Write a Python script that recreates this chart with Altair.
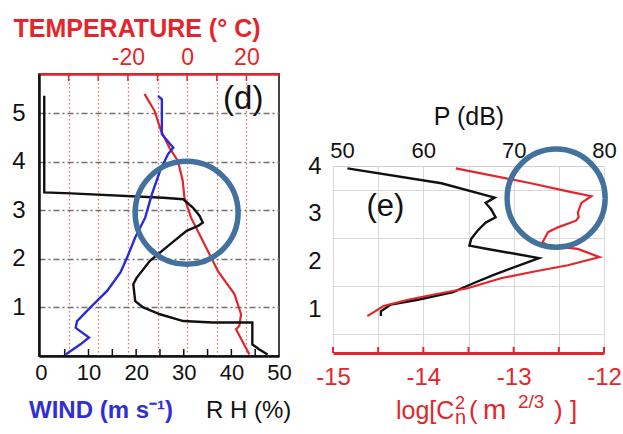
import altair as alt
import pandas as pd

# ---------------- panel (d): sounding profiles ----------------
wind_h = [5.36, 5.29, 4.57, 4.29, 4.16, 3.81, 3.33, 2.85, 2.44, 2.03, 1.72, 1.34, 1.00, 0.72, 0.58, 0.38, 0.24, 0.03]
wind_v = [24.6, 25.4, 25.4, 27.8, 26.7, 25.0, 23.3, 21.9, 19.8, 18.1, 16.7, 13.9, 10.4, 7.6, 7.3, 10.1, 8.3, 5.2]

rh_h = [5.36, 3.37, 3.35, 3.26, 3.23, 3.06, 2.89, 2.75, 2.68, 2.58, 2.30, 1.96, 1.61, 1.48, 1.13, 1.00, 0.86, 0.72, 0.69, 0.69, 0.24, 0.14, 0.03]
rh_v = [0.7, 0.7, 6.3, 25.7, 29.9, 31.9, 33.3, 34.0, 33.0, 30.6, 27.1, 22.9, 20.1, 19.4, 19.8, 21.5, 25.0, 29.9, 36.1, 44.4, 44.4, 45.8, 47.6]

temp_h = [5.40, 5.05, 4.64, 4.29, 4.02, 3.61, 3.26, 2.85, 2.44, 1.75, 1.27, 0.86, 0.62, 0.55, 0.03]
temp_v = [-14.4, -11.0, -8.8, -6.0, -3.1, -1.5, -0.9, 1.3, 4.7, 10.4, 16.0, 18.2, 17.6, 16.5, 21.0]

temp_ticks = [-40, -30, -20, -10, 0, 10, 20]
rh_ticks = [0, 10, 20, 30, 40, 50]
rh_minor = [5, 10, 15, 20, 25, 30, 35, 40, 45]
height_d_ticks = [1, 2, 3, 4, 5]

circle_d = {"v": [30.6], "h": [2.95]}
label_d = {"v": [42.5], "h": [5.3], "t": ["(d)"]}

# ---------------- panel (e): radar power & Cn2 ----------------
p_h = [3.95, 3.64, 3.34, 3.23, 3.10, 2.93, 2.82, 2.65, 2.48, 2.34, 2.27, 2.08, 1.73, 1.56, 1.37, 1.21, 1.11, 0.97, 0.87]
p_v = [51.6, 62.0, 67.9, 66.9, 67.5, 68.0, 66.9, 66.0, 65.3, 65.1, 67.1, 72.8, 67.8, 65.6, 63.3, 59.4, 56.4, 55.3, 55.3]

cn_h = [3.95, 3.64, 3.47, 3.37, 3.23, 3.03, 2.93, 2.86, 2.72, 2.62, 2.41, 2.34, 2.27, 2.10, 2.07, 1.93, 1.80, 1.66, 1.45, 1.32, 1.21, 1.08, 0.87]
cn_v = [-13.64, -12.81, -12.40, -12.14, -12.25, -12.29, -12.28, -12.31, -12.51, -12.62, -12.68, -12.62, -12.29, -12.05, -12.11, -12.40, -12.77, -13.14, -13.51, -13.88, -14.17, -14.44, -14.62]

p_ticks = [50, 60, 70, 80]
cn_ticks = [-15, -14.5, -14, -13.5, -13, -12.5, -12]
height_e_ticks = [0.5, 1, 1.5, 2, 2.5, 3, 3.5, 4]

circle_e = {"v": [-12.53], "h": [3.33]}
label_e = {"v": [-14.42], "h": [3.15], "t": ["(e)"]}

# ---------------- styling ----------------
FONT = "Liberation Sans"
RED = "#e3262c"
BLUE = "#2a2ad6"
BLACK = "#111111"
CIRC = "#41719c"

W_D, H_D = 240, 282
W_E, H_E = 271, 187
LEFT, TOP = 38, 73   # where panel (d)'s plot area sits in the page


def prof(vals, hs):
    return pd.DataFrame({"v": vals, "h": hs, "i": list(range(len(vals)))})


def txt(text, x, y, size, color, weight="normal"):
    return alt.Chart(pd.DataFrame({"t": [text]})).mark_text(
        font=FONT, fontSize=size, color=color, fontWeight=weight,
        align="left", baseline="alphabetic"
    ).encode(text="t:N", x=alt.value(x), y=alt.value(y))


# scales
rh_scale = alt.Scale(domain=[-0.4, 50], nice=False, zero=False)
t_scale = alt.Scale(domain=[-50, 31], nice=False, zero=False)
hd_scale = alt.Scale(domain=[0, 5.81], nice=False, zero=False)

c_scale = alt.Scale(domain=[-15, -12], nice=False, zero=False)
p_scale = alt.Scale(domain=[50, 80], nice=False, zero=False)
he_scale = alt.Scale(domain=[0.1, 4.0], nice=False, zero=False)

# axes panel d
yd_axis = alt.Axis(orient="left", values=height_d_ticks, labelExpr="'' + datum.value",
                   labelFont=FONT, labelFontSize=24, labelColor=BLACK, labelPadding=14,
                   ticks=False, domainColor=BLACK, domainWidth=2.5,
                   grid=True, gridColor="#707070", gridDash=[6, 3, 2, 3], gridWidth=1.3,
                   title=None)
t_axis = alt.Axis(orient="top", values=temp_ticks,
                  labelExpr="(datum.value == -20 || datum.value == 0 || datum.value == 20) ? '' + datum.value : ''",
                  labelFont=FONT, labelFontSize=23, labelColor=RED, labelPadding=5,
                  labelOverlap=False, labelFlush=False,
                  ticks=False, domainColor=RED, domainWidth=2.5,
                  grid=True, gridColor="#e57373", gridDash=[1.5, 2.5], gridWidth=1.3,
                  title="TEMPERATURE  (\u00b0 C)", titleFont=FONT, titleFontSize=25,
                  titleFontWeight="bold", titleColor=RED, titleAlign="left",
                  titleAnchor="start", titleX=-26, titleY=-46, titleBaseline="middle")
rh_axis = alt.Axis(orient="bottom", values=rh_ticks, labelFont=FONT, labelFontSize=22,
                   labelColor=BLACK, labelPadding=6, labelFlush=False, labelOverlap=False,
                   ticks=False, domainColor=BLACK, domainWidth=2.5, grid=False, title=None)

yd = alt.Y("h:Q", scale=hd_scale, axis=yd_axis)

temp_line = alt.Chart(prof(temp_v, temp_h)).mark_line(color=RED, strokeWidth=2.2).encode(
    x=alt.X("v:Q", scale=t_scale, axis=t_axis), y=yd, order="i:Q")
temp_tick_marks = alt.Chart(pd.DataFrame({"v": temp_ticks})).mark_rule(color=RED, strokeWidth=1.5).encode(
    x=alt.X("v:Q", scale=t_scale, axis=t_axis), y=alt.value(0), y2=alt.value(7))
temp_group = alt.layer(temp_tick_marks, temp_line)

rh_line = alt.Chart(prof(rh_v, rh_h)).mark_line(color=BLACK, strokeWidth=2.4).encode(
    x=alt.X("v:Q", scale=rh_scale, axis=rh_axis), y=yd, order="i:Q")
wind_line = alt.Chart(prof(wind_v, wind_h)).mark_line(color=BLUE, strokeWidth=2.4).encode(
    x=alt.X("v:Q", scale=rh_scale, axis=rh_axis), y=yd, order="i:Q")
rh_tick_marks = alt.Chart(pd.DataFrame({"v": rh_minor})).mark_rule(color=BLACK, strokeWidth=1.5).encode(
    x=alt.X("v:Q", scale=rh_scale, axis=rh_axis), y=alt.value(H_D), y2=alt.value(H_D - 7))
circ_d = alt.Chart(pd.DataFrame(circle_d)).mark_point(
    shape="circle", size=10600, filled=False, strokeWidth=5.5, color=CIRC, opacity=1).encode(
    x=alt.X("v:Q", scale=rh_scale, axis=rh_axis), y=yd)
lab_d = alt.Chart(pd.DataFrame(label_d)).mark_text(font=FONT, fontSize=33, color=BLACK).encode(
    x=alt.X("v:Q", scale=rh_scale, axis=rh_axis), y=yd, text="t:N")
wind_title = txt("WIND  (m s\u207b\u00b9)", -10, 344, 24, "#3030d2", "bold")
rh_title = txt("R H (%)", 167, 344, 24, BLACK)
# invisible anchor fixing the page's top-left corner
anchor = alt.Chart(pd.DataFrame({"z": [0]})).mark_rule(opacity=0, strokeWidth=1).encode(
    x=alt.value(-LEFT + 0.5), x2=alt.value(-LEFT + 2), y=alt.value(-TOP + 0.5), y2=alt.value(-TOP + 2))

rh_group = alt.layer(anchor, rh_tick_marks, rh_line, wind_line, lab_d, circ_d, wind_title, rh_title)

panel_d = alt.layer(temp_group, rh_group).resolve_scale(x="independent").resolve_axis(x="independent").properties(
    width=W_D, height=H_D, view=alt.ViewBackground(stroke="#444444", strokeWidth=2))

# axes panel e
ye_axis = alt.Axis(orient="left", values=height_e_ticks,
                   labelExpr="datum.value % 1 == 0 ? '' + datum.value : ''",
                   labelFont=FONT, labelFontSize=24, labelColor=BLACK, labelPadding=12,
                   labelOverlap=False, labelFlush=False,
                   ticks=False, domain=False,
                   grid=True, gridColor="#d9d9d9", gridWidth=1,
                   gridOpacity={"condition": {"test": "datum.value % 1 != 0", "value": 1}, "value": 0},
                   title=None)
cn_axis = alt.Axis(orient="bottom", values=cn_ticks,
                   labelExpr="datum.value % 1 == 0 ? '' + datum.value : ''",
                   labelFont=FONT, labelFontSize=24, labelColor=RED, labelPadding=12,
                   labelOverlap=False, labelFlush=False,
                   ticks=False, domainColor=RED, domainWidth=3,
                   grid=True, gridColor="#d9d9d9", gridWidth=1, title=None)
p_axis = alt.Axis(orient="top", values=p_ticks, labelExpr="'' + datum.value",
                  labelFont=FONT, labelFontSize=22, labelColor=BLACK, labelPadding=4,
                  labelOverlap=False, labelFlush=False,
                  labelOffset={"condition": {"test": "datum.value == 50", "value": 9}, "value": 0},
                  ticks=False, domain=False, grid=False,
                  title="P  (dB)", titleFont=FONT, titleFontSize=25, titleFontWeight="normal",
                  titleColor=BLACK, titleY=-50, titleBaseline="middle")

ye = alt.Y("h:Q", scale=he_scale, axis=ye_axis)

p_line = alt.Chart(prof(p_v, p_h)).mark_line(color=BLACK, strokeWidth=2.4).encode(
    x=alt.X("v:Q", scale=p_scale, axis=p_axis), y=ye, order="i:Q")

cn_line = alt.Chart(prof(cn_v, cn_h)).mark_line(color=RED, strokeWidth=2.2).encode(
    x=alt.X("v:Q", scale=c_scale, axis=cn_axis), y=ye, order="i:Q")
cn_tick_marks = alt.Chart(pd.DataFrame({"v": cn_ticks})).mark_rule(color=RED, strokeWidth=2).encode(
    x=alt.X("v:Q", scale=c_scale, axis=cn_axis), y=alt.value(H_E), y2=alt.value(H_E - 6))
circ_e = alt.Chart(pd.DataFrame(circle_e)).mark_point(
    shape="circle", size=9600, filled=False, strokeWidth=5.5, color=CIRC, opacity=1).encode(
    x=alt.X("v:Q", scale=c_scale, axis=cn_axis), y=ye)
lab_e = alt.Chart(pd.DataFrame(label_e)).mark_text(font=FONT, fontSize=31, color=BLACK).encode(
    x=alt.X("v:Q", scale=c_scale, axis=cn_axis), y=ye, text="t:N")

cn_title = alt.layer(
    txt("log[C", 63, 253, 25, RED),
    txt("2", 122, 243, 18, RED),
    txt("n", 122, 258, 20, RED),
    txt("(", 136, 253, 26, RED),
    txt("m", 150, 253, 28, RED),
    txt("2/3", 185, 242, 19, RED),
    txt(")", 221, 253, 26, RED),
    txt("]", 237, 253, 26, RED),
)

cn_group = alt.layer(cn_tick_marks, cn_line, lab_e, circ_e, cn_title)

panel_e = alt.layer(p_line, cn_group).resolve_scale(x="independent").resolve_axis(x="independent").properties(
    width=W_E, height=H_E, view=alt.ViewBackground(stroke="#cfcfcf", strokeWidth=1))

spacer = alt.Chart(pd.DataFrame({"z": [0]})).mark_point(opacity=0).encode(
    x=alt.X("z:Q", axis=None), y=alt.Y("z:Q", axis=None)).properties(
    width=W_E, height=92, view=alt.ViewBackground(stroke="transparent"))

right_col = alt.vconcat(spacer, panel_e, spacing=0, bounds="flush")

chart = alt.hconcat(panel_d, right_col, spacing=54, bounds="flush").properties(
    padding=0,
    background="white",
).configure_view(strokeWidth=0)

chart.save("out.html", embed_options={"renderer": "svg", "actions": False})
